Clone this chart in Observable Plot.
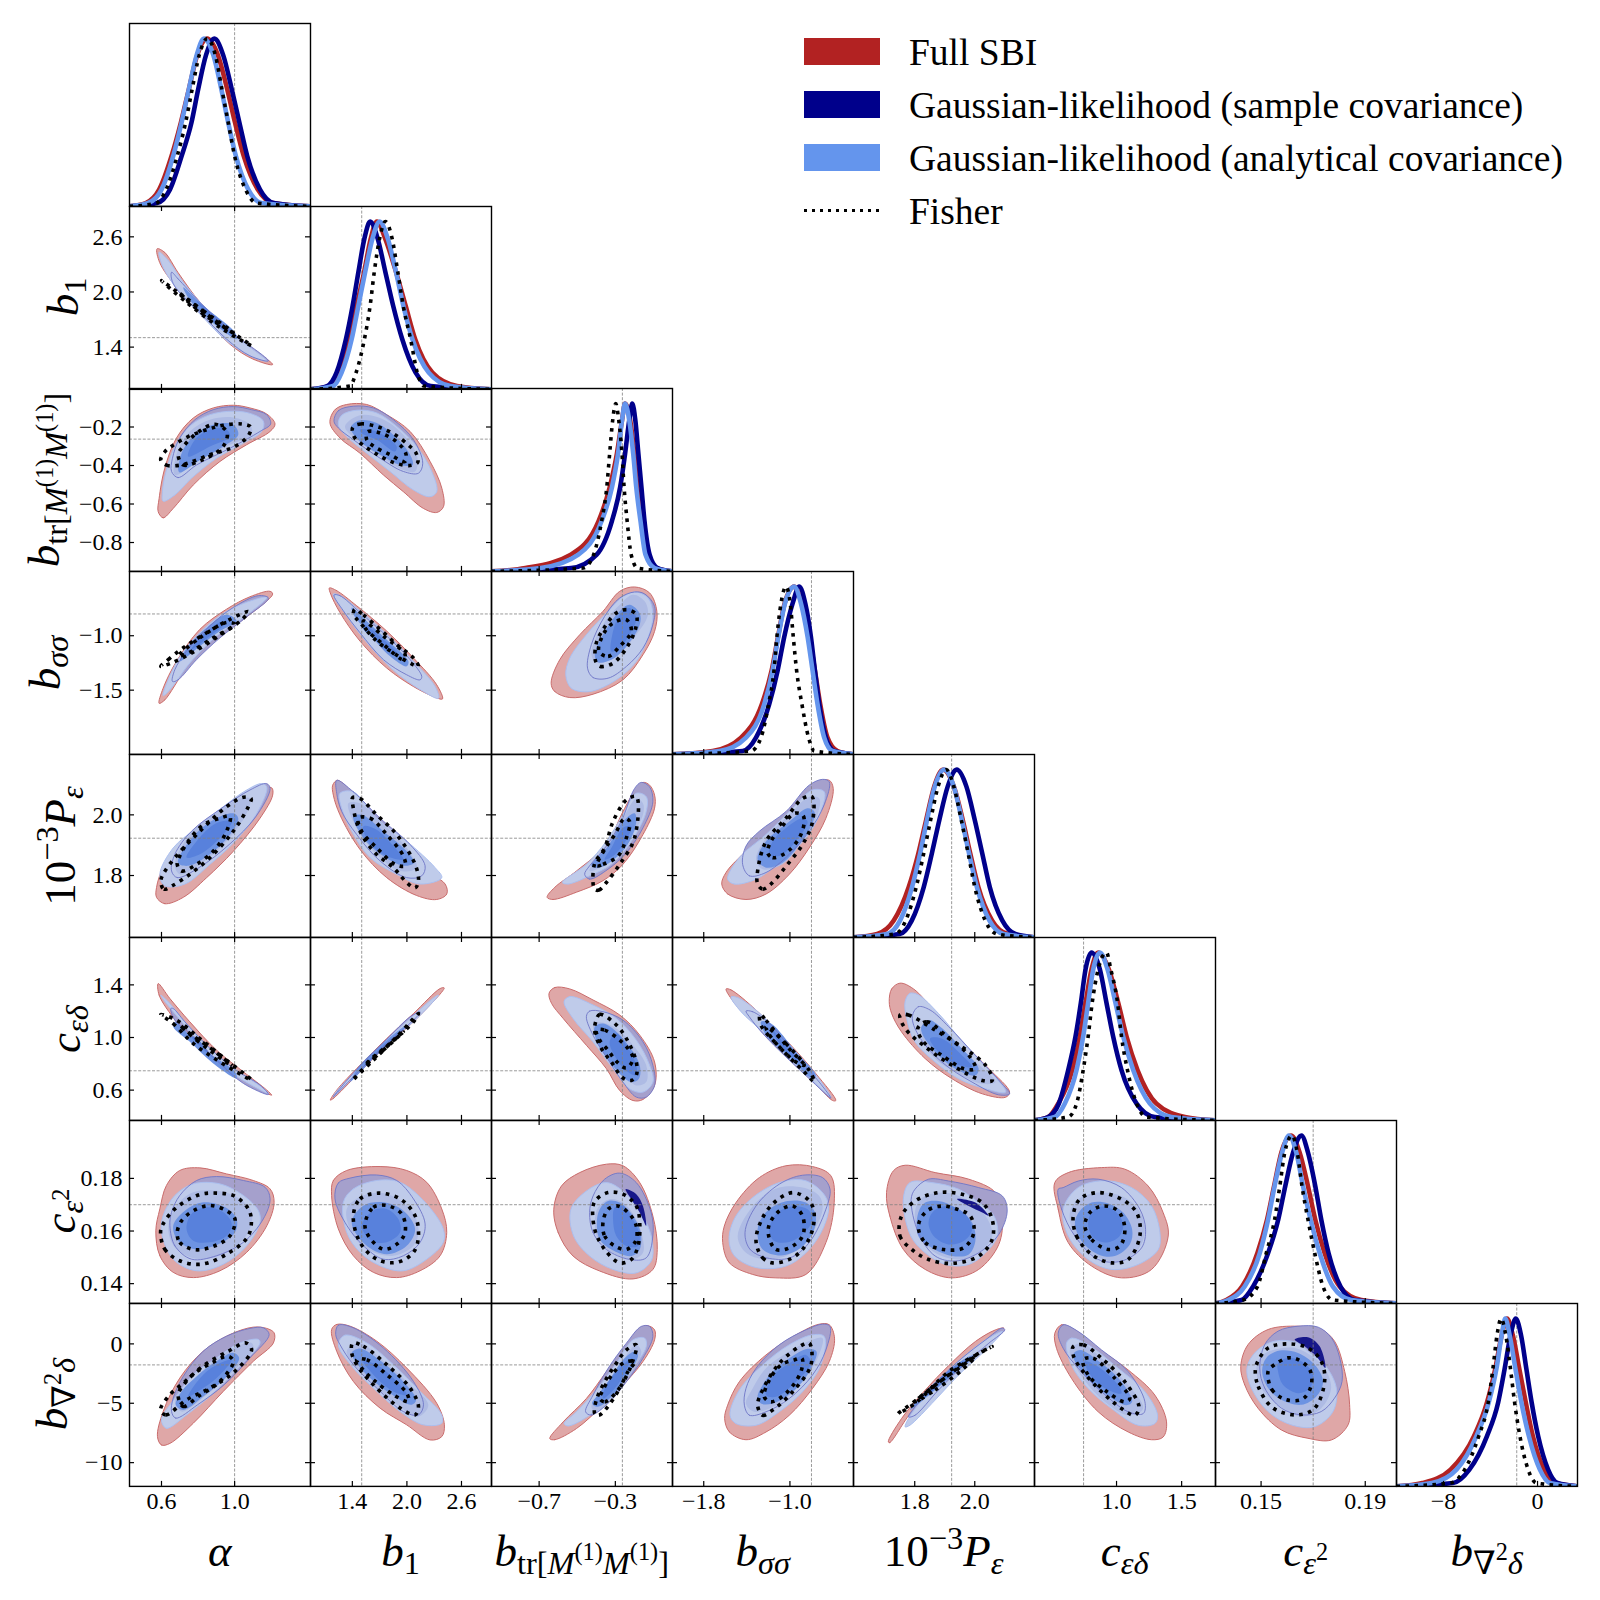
<!doctype html>
<html><head><meta charset="utf-8">
<script src="https://cdn.jsdelivr.net/npm/d3@7"></script>
<script src="https://cdn.jsdelivr.net/npm/@observablehq/plot@0.6"></script>
<style>
html,body{margin:0;background:#fff}
#fig{position:relative;width:1600px;height:1600px;font-family:"Liberation Serif","DejaVu Serif",serif;color:#000;overflow:hidden}
.p{position:absolute}
.p svg{overflow:visible;max-width:none;background:transparent}
.lab{position:absolute;font-size:45px;white-space:nowrap;line-height:1;transform:translate(-50%,-50%)}
.lab.y{transform:translate(-50%,-50%) rotate(-90deg)}
.lab sub,.lab sup{line-height:0;font-size:.72em}
.lab sub{vertical-align:-.25em}.lab sup{vertical-align:.5em}
.lab sub sup{font-size:.75em;vertical-align:.55em}
.leg{position:absolute;left:804px;display:flex;align-items:center;font-size:37.5px;height:27px;white-space:nowrap}
.leg .s{width:76px;height:27px;margin-right:29px;flex:none}
</style></head><body><div id="fig"></div>
<script>
const names=["α","b1","btr","bσσ","P","cεδ","cε2","b∇2δ"];
const domains=[[.425,1.415],[.94,2.93],[-.95,0],[-2.09,-.41],[1.596,2.199],[.37,1.76],[.1325,.2020],[-12,3.4]];
const truth=[1.0,1.503,-.263,-.8,1.923,.747,.17,-1.77];
const ticksX=[[.6,1],[1.4,2,2.6],[-.7,-.3],[-1.8,-1],[1.8,2],[1,1.5],[.15,.19],[-8,0]];
const ticksY=[[],[1.4,2,2.6],[-.8,-.6,-.4,-.2],[-1.5,-1],[1.8,2],[.6,1,1.4],[.14,.16,.18],[-10,-5,0]];
const fmtX=[".1f",".1f",".1f",".1f",".1f",".1f",".2f","d"];
const fmtY=[".1f",".1f",".1f",".1f",".1f",".1f",".2f","d"];
const levels=[.02,.1,.3,.5,.7,.9,1,.9,.7,.5,.3,.1,.02];
// 1-D posteriors: x read at each density level
var sbi1d=[[.514,.587,.655,.706,.75,.795,.85,.909,.959,1.002,1.05,1.127,1.21],
[1.152,1.244,1.367,1.448,1.53,1.603,1.67,1.76,1.88,1.985,2.09,2.28,2.55],
[-.772,-.534,-.388,-.33,-.292,-.265,-.249,-.222,-.2,-.184,-.163,-.131,-.084],
[-1.717,-1.454,-1.26,-1.17,-1.111,-1.049,-.96,-.889,-.82,-.768,-.719,-.651,-.558],
[1.675,1.73,1.78,1.812,1.838,1.865,1.895,1.93,1.96,1.985,2.012,2.058,2.11],
[.475,.552,.66,.718,.762,.808,.859,.941,1.013,1.077,1.161,1.307,1.525],
[.1367,.1427,.1486,.1523,.155,.1578,.1616,.1648,.168,.1708,.1744,.1802,.1885],
[-9.8,-7.4,-5.4,-4.3,-3.6,-3.05,-2.6,-2.1,-1.55,-1.0,-.4,.55,1.5]];
var sample1d=[[.576,.646,.71,.764,.801,.843,.889,.938,.984,1.026,1.069,1.139,1.214],
[1.123,1.226,1.33,1.404,1.467,1.533,1.596,1.678,1.763,1.848,1.948,2.096,2.262],
[-.532,-.398,-.318,-.275,-.249,-.227,-.211,-.195,-.179,-.163,-.147,-.12,-.078],
[-1.439,-1.315,-1.192,-1.114,-1.053,-.975,-.913,-.858,-.805,-.768,-.728,-.666,-.589],
[1.75,1.79,1.83,1.857,1.882,1.91,1.94,1.972,2.0,2.025,2.05,2.092,2.135],
[.475,.557,.629,.685,.726,.762,.808,.872,.923,.974,1.038,1.154,1.294],
[.1425,.1469,.1527,.1566,.1593,.1623,.1655,.168,.1708,.1731,.1759,.1805,.1859],
[-7.2,-5.8,-4.3,-3.35,-2.8,-2.3,-1.85,-1.4,-.95,-.5,.05,.9,1.7]];
var analytic1d=[[.527,.6,.664,.71,.75,.792,.832,.884,.927,.965,1.007,1.075,1.148],
[1.189,1.282,1.393,1.467,1.541,1.622,1.70,1.789,1.88,1.96,2.06,2.24,2.48],
[-.692,-.494,-.372,-.318,-.286,-.265,-.249,-.227,-.206,-.19,-.168,-.142,-.094],
[-1.655,-1.408,-1.238,-1.161,-1.108,-1.046,-.96,-.898,-.836,-.79,-.744,-.682,-.604],
[1.707,1.751,1.791,1.818,1.841,1.867,1.898,1.93,1.957,1.981,2.007,2.049,2.096],
[.526,.603,.693,.744,.782,.821,.872,.931,.992,1.051,1.128,1.256,1.422],
[.1373,.1437,.1495,.1527,.1552,.1581,.1607,.1635,.1661,.169,.1725,.1776,.1846],
[-9.0,-6.9,-5.2,-4.15,-3.5,-3.05,-2.75,-2.37,-1.88,-1.37,-.74,.2,1.05]];
var fisher1d=[[.573,.625,.686,.732,.768,.806,.85,.895,.93,.965,1.0,1.06,1.12],
[1.374,1.441,1.533,1.596,1.641,1.7,1.763,1.837,1.9,1.959,2.04,2.114,2.188],
[-.468,-.414,-.372,-.345,-.33,-.314,-.298,-.282,-.265,-.254,-.238,-.217,-.184],
[-1.362,-1.269,-1.198,-1.148,-1.121,-1.083,-1.037,-.997,-.969,-.938,-.889,-.827,-.774],
[1.735,1.77,1.805,1.83,1.853,1.878,1.905,1.93,1.955,1.978,2.0,2.035,2.075],
[.629,.693,.744,.782,.813,.859,.923,.956,1.008,1.038,1.084,1.154,1.23],
[.1431,.1486,.152,.1552,.1572,.1591,.1619,.1639,.1657,.168,.1706,.1738,.1776],
[-7.4,-6.2,-5.0,-4.2,-3.8,-3.45,-3.1,-2.7,-2.3,-1.95,-1.5,-.8,-.1]];
// 2-D contours (x,y,x,y…) per panel rowcol: R SBI 95, N sample 95, B analytic 95, M overlap, L analytic 68, K core, D sample 68 sliver, F Fisher 95, H Fisher 68
var R10=[.576,2.47,.618,2.43,.691,2.21,.81,1.89,.975,1.56,1.208,1.21,1.10,1.27,.975,1.43,.828,1.74,.682,2.05,.59,2.32];
var B10=[.587,2.433,.637,2.342,.719,2.106,.828,1.851,.975,1.56,1.175,1.25,1.084,1.305,.956,1.469,.828,1.723,.691,2.015,.609,2.269];
var N10=[.655,2.215,.691,2.142,.81,1.887,.975,1.578,1.185,1.25,1.084,1.305,.956,1.487,.81,1.778,.682,2.033,.655,2.142];
var L10=[.719,2.051,.828,1.851,1.002,1.56,1.011,1.487,.901,1.632,.764,1.887];
var K10=[.792,1.905,.92,1.687,.956,1.578,.865,1.723];
var F10=[.6,2.124,.737,1.924,.92,1.651,1.093,1.414,.92,1.614,.737,1.887];
var H10=[.691,1.996,.828,1.796,.993,1.56,.828,1.76];
var R20=[.582,-.64,.609,-.672,.664,-.623,.774,-.501,.92,-.379,1.066,-.292,1.194,-.223,1.221,-.184,1.175,-.132,1.084,-.101,.993,-.087,.883,-.101,.774,-.153,.682,-.257,.618,-.414,.587,-.571];
var N20=[.655,-.431,.691,-.463,.792,-.397,.975,-.31,1.139,-.223,1.197,-.184,1.175,-.136,1.093,-.11,.993,-.094,.883,-.11,.783,-.162,.7,-.257,.66,-.362];
var B20=[.609,-.585,.673,-.553,.764,-.466,.901,-.362,1.048,-.284,1.148,-.223,1.157,-.17,1.093,-.132,.993,-.118,.865,-.136,.764,-.188,.682,-.284,.627,-.423,.605,-.536];
var M20=[.673,-.449,.81,-.371,.975,-.292,1.093,-.24,1.084,-.188,.993,-.15,.865,-.162,.755,-.223,.682,-.344];
var L20=[.697,-.435,.81,-.371,.938,-.301,1.02,-.24,.993,-.188,.883,-.188,.783,-.24,.71,-.336];
var K20=[.746,-.353,.865,-.301,.975,-.249,.956,-.214,.865,-.214,.783,-.266];
var F20=[.596,-.371,.627,-.398,.71,-.397,.865,-.344,1.002,-.301,1.075,-.245,1.088,-.2,1.038,-.184,.938,-.191,.847,-.214,.746,-.25,.66,-.297,.618,-.329];
var H20=[.691,-.341,.719,-.397,.81,-.376,.92,-.318,.956,-.266,.956,-.223,.892,-.186,.801,-.226,.719,-.301];
var R21=[1.154,-.179,1.209,-.11,1.338,-.083,1.558,-.083,1.778,-.136,2.035,-.223,2.255,-.379,2.384,-.518,2.402,-.614,2.328,-.644,2.182,-.623,1.961,-.536,1.741,-.449,1.484,-.336,1.264,-.257];
var N21=[1.198,-.17,1.246,-.115,1.411,-.092,1.631,-.101,1.851,-.162,2.072,-.266,2.174,-.388,2.127,-.44,1.961,-.431,1.705,-.362,1.411,-.266,1.246,-.205];
var B21=[1.246,-.188,1.283,-.139,1.448,-.113,1.668,-.127,1.888,-.197,2.108,-.301,2.273,-.431,2.328,-.536,2.255,-.562,2.072,-.527,1.815,-.431,1.558,-.336,1.338,-.249];
var M21=[1.319,-.197,1.484,-.139,1.705,-.153,1.925,-.223,2.108,-.344,2.09,-.431,1.961,-.423,1.705,-.353,1.448,-.266];
var L21=[1.382,-.205,1.466,-.167,1.668,-.179,1.888,-.257,2.035,-.344,2.064,-.397,1.925,-.397,1.705,-.344,1.484,-.275];
var K21=[1.484,-.214,1.668,-.223,1.888,-.301,1.869,-.327,1.668,-.266,1.503,-.232];
var F21=[1.404,-.202,1.492,-.184,1.686,-.2,1.869,-.24,2.035,-.301,2.101,-.336,2.119,-.383,2.035,-.4,1.851,-.384,1.668,-.341,1.503,-.289,1.418,-.249];
var H21=[1.565,-.226,1.668,-.226,1.869,-.27,1.987,-.336,1.98,-.379,1.815,-.344,1.639,-.301,1.558,-.266];
var R30=[.587,-1.621,.618,-1.59,.737,-1.297,.901,-1.019,1.048,-.849,1.208,-.617,1.194,-.592,1.084,-.642,.956,-.756,.81,-.941,.682,-1.235,.609,-1.482];
var B30=[.609,-1.55,.646,-1.497,.755,-1.25,.901,-1.003,1.048,-.833,1.176,-.648,1.102,-.672,.956,-.778,.819,-.957,.691,-1.219];
var N30=[.66,-1.42,.691,-1.405,.792,-1.219,.92,-1.019,1.066,-.827,1.185,-.654,1.13,-.632,.993,-.74,.865,-.91,.737,-1.142,.673,-1.312];
var L30=[.7,-1.235,.81,-1.096,.92,-.957,1.011,-.864,.956,-.808,.847,-.926,.746,-1.096];
var K30=[.764,-1.127,.865,-1.003,.956,-.879,.92,-.879,.819,-1.003];
var F30=[.596,-1.281,.637,-1.219,.719,-1.111,.847,-.972,.975,-.849,1.075,-.778,1.038,-.855,.92,-.994,.783,-1.142,.655,-1.25];
var H30=[.691,-1.188,.81,-1.019,.956,-.879,1.002,-.895,.883,-1.019,.746,-1.158];
var R31=[1.147,-.561,1.228,-.586,1.448,-.725,1.778,-.957,2.072,-1.204,2.328,-1.451,2.391,-1.581,2.292,-1.559,2.072,-1.467,1.778,-1.297,1.484,-1.049,1.264,-.787,1.162,-.617];
var B31=[1.19,-.617,1.264,-.632,1.484,-.771,1.778,-.987,2.072,-1.235,2.31,-1.467,2.347,-1.575,2.182,-1.513,1.888,-1.343,1.595,-1.096,1.338,-.817];
var N31=[1.198,-.626,1.264,-.632,1.484,-.787,1.778,-1.003,2.035,-1.219,2.163,-1.374,2.145,-1.405,1.998,-1.359,1.741,-1.219,1.484,-.972,1.301,-.771];
var L31=[1.393,-.74,1.595,-.895,1.815,-1.065,2.017,-1.235,1.998,-1.281,1.815,-1.188,1.576,-.972,1.411,-.802];
var K31=[1.521,-.895,1.741,-1.034,1.888,-1.158,1.815,-1.158,1.631,-1.019,1.521,-.941];
var F31=[1.429,-.756,1.521,-.809,1.705,-.941,1.888,-1.081,2.072,-1.204,2.127,-1.281,2.054,-1.26,1.851,-1.158,1.668,-1.049,1.484,-.879,1.411,-.802];
var H31=[1.521,-.864,1.741,-1.003,1.98,-1.173,1.961,-1.219,1.741,-1.08,1.539,-.926];
var R32=[-.637,-1.436,-.618,-1.513,-.539,-1.568,-.417,-1.537,-.26,-1.405,-.155,-1.175,-.094,-.96,-.082,-.776,-.12,-.607,-.199,-.552,-.277,-.592,-.365,-.776,-.487,-.991,-.592,-1.221];
var N32=[-.446,-1.298,-.417,-1.384,-.338,-1.39,-.242,-1.282,-.155,-1.114,-.103,-.899,-.094,-.73,-.146,-.616,-.199,-.598,-.277,-.653,-.356,-.822,-.426,-1.083];
var B32=[-.56,-1.359,-.531,-1.482,-.435,-1.513,-.295,-1.405,-.19,-1.236,-.129,-1.021,-.103,-.807,-.129,-.653,-.199,-.598,-.269,-.653,-.338,-.776,-.452,-.991,-.539,-1.206];
var M32=[-.426,-1.175,-.391,-1.252,-.277,-1.16,-.19,-.991,-.129,-.807,-.146,-.684,-.207,-.623,-.277,-.715,-.365,-.899];
var L32=[-.408,-1.175,-.391,-1.243,-.321,-1.221,-.242,-1.098,-.172,-.899,-.172,-.795,-.225,-.715,-.286,-.791,-.365,-.991];
var K32=[-.321,-1.144,-.277,-1.114,-.216,-.96,-.19,-.837,-.225,-.745,-.277,-.807,-.316,-.991];
var F32=[-.403,-1.236,-.379,-1.282,-.312,-1.252,-.242,-1.114,-.193,-.929,-.19,-.807,-.234,-.761,-.295,-.791,-.365,-.945,-.4,-1.068];
var H32=[-.386,-1.144,-.338,-1.19,-.277,-1.098,-.216,-.96,-.242,-.853,-.312,-.883,-.365,-.991];
var R40=[.573,1.728,.618,1.707,.719,1.728,.847,1.793,.993,1.88,1.139,1.989,1.208,2.065,1.203,2.089,1.139,2.087,1.011,2.054,.865,1.989,.719,1.913,.609,1.826,.573,1.761];
var N40=[.655,1.815,.686,1.793,.805,1.826,.97,1.902,1.116,1.994,1.194,2.087,1.175,2.103,1.084,2.082,.929,2.022,.764,1.946,.673,1.87];
var B40=[.591,1.804,.618,1.766,.728,1.772,.865,1.837,1.002,1.913,1.121,2.005,1.176,2.092,1.148,2.103,1.066,2.082,.938,2.027,.792,1.957,.664,1.891];
var M40=[.673,1.837,.7,1.804,.81,1.837,.956,1.913,1.066,2.005,1.084,2.054,1.011,2.049,.883,2.0,.755,1.935];
var L40=[.691,1.842,.746,1.832,.865,1.87,.975,1.935,1.02,1.989,.993,2.005,.901,1.989,.783,1.935];
var K40=[.737,1.859,.81,1.87,.92,1.924,.984,1.978,.901,1.973,.792,1.913];
var F40=[.596,1.78,.613,1.755,.664,1.768,.755,1.804,.865,1.859,.993,1.946,1.075,2.027,1.09,2.054,1.048,2.058,.956,2.027,.81,1.946,.673,1.859,.609,1.804];
var H40=[.686,1.837,.71,1.815,.792,1.837,.892,1.886,.956,1.946,.975,1.995,.92,1.989,.828,1.967,.746,1.913,.7,1.864];
var R41=[1.184,2.098,1.235,2.114,1.375,2.082,1.595,2.011,1.851,1.913,2.145,1.826,2.42,1.772,2.438,1.739,2.328,1.721,2.108,1.734,1.778,1.793,1.484,1.886,1.264,2.0,1.191,2.065];
var N41=[1.228,2.114,1.411,2.076,1.705,1.989,2.035,1.902,2.2,1.832,2.163,1.799,1.998,1.793,1.705,1.848,1.448,1.935,1.283,2.011,1.228,2.071];
var B41=[1.264,2.071,1.411,2.076,1.668,1.989,1.998,1.913,2.31,1.826,2.383,1.793,2.145,1.772,1.888,1.804,1.595,1.859,1.393,1.946,1.283,2.022];
var M41=[1.356,2.038,1.484,2.038,1.705,1.978,1.998,1.891,2.108,1.826,1.925,1.815,1.668,1.87,1.448,1.957];
var L41=[1.411,1.995,1.503,2.0,1.741,1.946,1.998,1.88,2.079,1.842,1.961,1.832,1.741,1.864,1.521,1.924];
var K41=[1.521,1.962,1.668,1.951,1.851,1.897,1.961,1.853,1.778,1.864,1.576,1.913];
var F41=[1.404,2.057,1.484,2.054,1.668,2.0,1.888,1.935,2.09,1.837,2.127,1.783,2.09,1.759,1.998,1.777,1.851,1.826,1.649,1.875,1.484,1.946,1.411,2.022];
var H41=[1.466,1.989,1.595,1.989,1.778,1.935,1.961,1.864,1.98,1.832,1.87,1.837,1.668,1.891,1.503,1.946];
var R42=[-.658,1.728,-.627,1.721,-.504,1.745,-.365,1.783,-.26,1.837,-.155,1.935,-.094,2.022,-.094,2.065,-.12,2.098,-.155,2.107,-.19,2.087,-.26,2.011,-.347,1.902,-.504,1.815,-.618,1.761];
var N42=[-.461,1.804,-.435,1.788,-.338,1.821,-.242,1.875,-.155,1.957,-.103,2.043,-.12,2.092,-.164,2.107,-.199,2.087,-.269,1.978,-.347,1.897,-.435,1.832];
var B42=[-.578,1.777,-.548,1.772,-.435,1.799,-.321,1.837,-.216,1.913,-.138,2.011,-.138,2.06,-.19,2.071,-.26,2.0,-.347,1.913,-.452,1.837];
var M42=[-.435,1.815,-.321,1.848,-.234,1.913,-.155,2.0,-.155,2.038,-.19,2.054,-.26,1.989,-.347,1.902];
var L42=[-.426,1.832,-.382,1.826,-.295,1.859,-.225,1.913,-.19,1.978,-.199,2.005,-.26,1.978,-.338,1.897];
var K42=[-.356,1.853,-.312,1.864,-.242,1.918,-.216,1.962,-.26,1.957,-.321,1.891];
var F42=[-.409,1.755,-.386,1.752,-.347,1.777,-.277,1.837,-.199,1.924,-.19,2.06,-.242,2.049,-.312,1.978,-.356,1.891,-.409,1.839];
var H42=[-.397,1.832,-.365,1.837,-.286,1.864,-.242,1.924,-.225,1.978,-.251,1.989,-.303,1.935,-.356,1.886];
var R43=[-1.633,1.772,-1.578,1.739,-1.408,1.721,-1.222,1.739,-1.006,1.804,-.821,1.891,-.666,1.989,-.598,2.087,-.635,2.114,-.728,2.109,-.913,2.043,-1.161,1.957,-1.439,1.87,-1.593,1.81];
var N43=[-1.439,1.837,-1.377,1.799,-1.222,1.81,-1.006,1.87,-.821,1.946,-.682,2.033,-.635,2.109,-.697,2.117,-.821,2.098,-1.037,2.011,-1.284,1.946,-1.408,1.897];
var B43=[-1.578,1.788,-1.516,1.772,-1.315,1.788,-1.099,1.842,-.852,1.924,-.713,2.011,-.682,2.076,-.79,2.082,-.975,2.022,-1.222,1.935,-1.47,1.859];
var M43=[-1.315,1.853,-1.253,1.821,-1.068,1.837,-.883,1.913,-.744,2.0,-.728,2.054,-.821,2.06,-1.006,2.0,-1.222,1.924];
var L43=[-1.3,1.853,-1.222,1.826,-1.068,1.842,-.913,1.902,-.79,1.973,-.774,2.011,-.836,2.022,-1.006,1.978,-1.222,1.913];
var K43=[-1.192,1.87,-1.099,1.864,-.944,1.913,-.836,1.978,-.883,1.989,-1.037,1.957,-1.161,1.913];
var F43=[-1.3,1.772,-1.253,1.755,-1.176,1.772,-1.022,1.837,-.883,1.902,-.79,1.978,-.796,2.06,-.883,2.054,-1.037,1.989,-1.222,1.913,-1.3,1.815];
var H43=[-1.207,1.875,-1.161,1.859,-1.037,1.875,-.913,1.924,-.867,1.978,-.883,2.0,-.96,2.005,-1.083,1.957,-1.176,1.913];
var R50=[.582,1.41,.587,1.322,.682,1.119,.828,.891,.993,.714,1.203,.562,1.176,.6,1.048,.739,.901,.904,.755,1.119,.646,1.296];
var B50=[.596,1.322,.62,1.271,.711,1.119,.847,.891,1.002,.714,1.185,.575,1.157,.613,1.011,.752,.865,.916,.728,1.119,.637,1.271];
var N50=[.651,1.22,.673,1.132,.764,1.018,.901,.828,1.048,.651,1.185,.567,1.139,.638,.993,.765,.847,.942,.728,1.119,.664,1.22];
var L50=[.664,1.081,.755,.967,.883,.802,1.011,.689,1.002,.739,.865,.878,.746,1.03,.673,1.119];
var K50=[.764,1.005,.865,.866,.966,.752,.883,.853,.783,1.005];
var F50=[.596,1.175,.664,1.106,.774,.954,.92,.815,1.093,.676,.956,.828,.81,.992,.682,1.132];
var H50=[.7,1.094,.792,.98,.938,.828,.993,.777,.883,.904,.755,1.03];
var R51=[1.158,.524,1.191,.537,1.484,.739,1.778,.942,2.072,1.119,2.41,1.377,2.365,1.372,2.072,1.182,1.778,.992,1.484,.79,1.228,.6];
var B51=[1.191,.55,1.484,.752,1.778,.954,2.072,1.119,2.347,1.322,2.31,1.309,2.035,1.145,1.778,.98,1.484,.777,1.209,.575];
var N51=[1.191,.55,1.484,.752,1.778,.954,2.108,1.157,2.145,1.195,2.035,1.157,1.778,.987,1.484,.785,1.209,.567];
var L51=[1.375,.663,1.668,.866,1.961,1.056,1.998,1.094,1.778,.98,1.484,.79];
var K51=[1.521,.777,1.741,.916,1.888,1.018,1.705,.916];
var F51=[1.4,.673,1.631,.828,1.888,1.005,2.127,1.182,2.072,1.119,1.815,.954,1.558,.79];
var H51=[1.539,.79,1.741,.904,1.961,1.043,1.815,.954,1.613,.84];
var R52=[-.648,1.336,-.618,1.38,-.539,1.369,-.417,1.285,-.277,1.171,-.172,1.018,-.094,.814,-.094,.636,-.155,.529,-.207,.521,-.277,.597,-.347,.763,-.452,.941,-.574,1.145,-.635,1.26];
var N52=[-.452,1.158,-.435,1.201,-.365,1.196,-.26,1.132,-.155,.967,-.103,.789,-.094,.636,-.138,.547,-.19,.547,-.26,.661,-.33,.814,-.408,.992];
var B52=[-.569,1.273,-.539,1.311,-.417,1.247,-.295,1.145,-.19,.98,-.12,.789,-.103,.661,-.155,.585,-.225,.61,-.312,.763,-.417,.967,-.522,1.145];
var M52=[-.417,1.094,-.382,1.115,-.295,1.069,-.207,.941,-.138,.789,-.138,.661,-.19,.636,-.26,.725,-.33,.839];
var L52=[-.408,1.082,-.365,1.107,-.303,1.056,-.225,.929,-.172,.789,-.176,.687,-.216,.661,-.277,.725,-.347,.852,-.4,.98];
var K52=[-.33,.967,-.295,1.031,-.242,.941,-.19,.789,-.19,.712,-.234,.738,-.295,.839];
var F52=[-.403,1.12,-.382,1.176,-.303,1.107,-.242,.992,-.19,.814,-.19,.712,-.216,.674,-.26,.692,-.321,.814,-.373,.916,-.408,1.043];
var H52=[-.4,1.056,-.356,1.056,-.277,.98,-.234,.916,-.207,.839,-.242,.768,-.291,.814,-.338,.903,-.382,.98];
var R53=[-1.593,1.369,-1.547,1.362,-1.315,1.209,-1.006,.954,-.759,.725,-.574,.521,-.604,.521,-.79,.674,-1.037,.865,-1.284,1.069,-1.501,1.247];
var B53=[-1.547,1.308,-1.485,1.303,-1.269,1.176,-.991,.934,-.744,.699,-.62,.546,-.79,.674,-1.037,.865,-1.253,1.043,-1.454,1.196];
var N53=[-1.408,1.201,-1.346,1.196,-1.192,1.107,-.944,.865,-.728,.661,-.62,.539,-.821,.687,-1.037,.852,-1.253,1.031,-1.377,1.158];
var L53=[-1.269,1.12,-1.176,1.107,-.944,.89,-.759,.712,-.79,.687,-1.006,.852,-1.222,1.018];
var K53=[-1.161,1.056,-1.037,.941,-.898,.814,-.944,.827,-1.099,.954];
var F53=[-1.278,1.176,-1.222,1.13,-1.022,.929,-.821,.75,-.774,.661,-.867,.738,-1.099,.929,-1.269,1.094];
var H53=[-1.222,1.082,-1.037,.954,-.867,.789,-.944,.814,-1.114,.941,-1.207,1.043];
var R54=[1.715,1.273,1.723,1.369,1.751,1.413,1.796,1.369,1.868,1.196,1.957,.967,2.047,.763,2.116,.585,2.103,.546,2.025,.572,1.924,.687,1.835,.839,1.756,1.043,1.723,1.183];
var B54=[1.768,1.273,1.784,1.336,1.812,1.324,1.879,1.183,1.969,.941,2.058,.725,2.103,.585,2.036,.61,1.946,.687,1.868,.814,1.801,.967,1.773,1.145];
var N54=[1.792,1.158,1.812,1.234,1.851,1.209,1.913,1.082,2.002,.865,2.086,.661,2.116,.572,2.08,.564,1.991,.661,1.89,.814,1.812,1.018];
var M54=[1.818,1.056,1.851,1.132,1.913,1.005,1.991,.839,2.069,.661,2.025,.648,1.935,.738,1.857,.865];
var L54=[1.821,1.069,1.846,1.132,1.885,1.082,1.957,.916,2.013,.763,2.002,.712,1.935,.763,1.868,.89];
var K54=[1.851,.992,1.89,.992,1.957,.865,1.991,.776,1.935,.801,1.879,.89];
var F54=[1.751,1.171,1.779,1.171,1.868,1.056,1.957,.929,2.036,.789,2.058,.674,2.025,.674,1.924,.789,1.835,.929,1.768,1.069];
var H54=[1.81,1.069,1.84,1.12,1.902,1.018,1.98,.865,2.002,.763,1.963,.763,1.89,.865,1.829,.967];
var R60=[.569,.1601,.591,.1506,.664,.1443,.774,.1423,.92,.1449,1.066,.1519,1.176,.162,1.216,.1709,1.194,.176,1.102,.1792,.956,.1817,.81,.184,.7,.183,.627,.1773,.591,.1684];
var N60=[.646,.162,.673,.1544,.764,.1493,.901,.1506,1.048,.1557,1.157,.1646,1.194,.1722,1.167,.1766,1.048,.1792,.901,.1807,.792,.1792,.7,.1735,.655,.1671];
var B60=[.609,.1658,.6,.1595,.664,.1493,.792,.1449,.938,.1474,1.066,.1544,1.139,.1633,1.13,.1677,1.048,.1735,.92,.1779,.774,.1779,.673,.1735];
var M60=[.637,.1608,.682,.1531,.81,.1493,.956,.1519,1.075,.1595,1.093,.1671,1.029,.1722,.901,.1754,.774,.1747,.682,.1696];
var L60=[.664,.162,.691,.1563,.783,.1531,.911,.155,1.002,.1595,1.011,.1646,.948,.169,.828,.1709,.728,.1677];
var K60=[.737,.1608,.774,.1563,.865,.1557,.956,.1582,.984,.1627,.938,.1671,.847,.169,.764,.1665];
var F60=[.595,.1597,.618,.1531,.7,.1487,.819,.1474,.956,.1512,1.075,.1582,1.084,.1671,1.002,.1732,.901,.1744,.801,.1737,.673,.1684,.609,.1627];
var H60=[.686,.1595,.7,.1557,.783,.1529,.892,.1544,.975,.1582,1.002,.1646,.956,.1677,.865,.1697,.774,.1677,.71,.1639];
var R61=[1.172,.1735,1.191,.1792,1.338,.183,1.705,.1845,1.998,.183,2.218,.1785,2.383,.1684,2.438,.1595,2.365,.1506,2.145,.1449,1.888,.1423,1.631,.1443,1.411,.1506,1.246,.1608];
var N61=[1.209,.1722,1.246,.1783,1.374,.1801,1.668,.1813,1.888,.1792,2.072,.1722,2.2,.1627,2.145,.1557,1.961,.1506,1.741,.1493,1.521,.1544,1.338,.1622];
var B61=[1.301,.1709,1.411,.176,1.668,.1792,1.925,.1785,2.2,.1709,2.4,.1608,2.4,.1557,2.218,.1493,1.961,.1449,1.705,.1468,1.484,.1519,1.338,.1595];
var M61=[1.338,.1684,1.521,.1735,1.778,.1741,2.035,.1684,2.127,.1608,2.072,.1544,1.851,.1506,1.595,.1525,1.411,.1582];
var L61=[1.393,.1633,1.521,.1696,1.741,.1709,1.961,.1677,2.09,.1608,1.998,.1544,1.778,.1512,1.539,.155];
var K61=[1.503,.162,1.631,.1677,1.778,.1684,1.906,.1646,1.925,.1595,1.778,.1557,1.613,.1563];
var F61=[1.411,.1658,1.484,.1722,1.686,.1744,1.925,.1722,2.09,.1658,2.127,.1582,2.072,.1519,1.888,.1481,1.668,.1493,1.484,.1557];
var H61=[1.539,.1627,1.631,.169,1.778,.1697,1.943,.1665,1.98,.1595,1.888,.155,1.741,.1531,1.576,.1582];
var R62=[-.623,.1683,-.6,.1594,-.522,.1505,-.382,.1448,-.207,.1418,-.103,.1454,-.08,.153,-.103,.1657,-.172,.1784,-.26,.1848,-.347,.1854,-.487,.1822,-.583,.1771];
var N62=[-.435,.167,-.417,.1594,-.347,.153,-.225,.1492,-.138,.1498,-.103,.1581,-.112,.167,-.19,.1784,-.277,.182,-.356,.1797,-.417,.1733];
var B62=[-.533,.1683,-.519,.1581,-.435,.1505,-.312,.1454,-.19,.1441,-.112,.1486,-.103,.1543,-.129,.1619,-.19,.1695,-.26,.1752,-.347,.1784,-.452,.1752];
var M62=[-.408,.1632,-.391,.1568,-.312,.1517,-.207,.1492,-.155,.1517,-.155,.1568,-.19,.1644,-.26,.1708,-.33,.1721,-.391,.1689];
var L62=[-.397,.1632,-.382,.1568,-.321,.153,-.216,.1505,-.172,.153,-.167,.1594,-.207,.1657,-.277,.1708,-.338,.1714,-.382,.1683];
var K62=[-.312,.1644,-.295,.1581,-.242,.1543,-.181,.1543,-.172,.1581,-.207,.1644,-.26,.1695,-.303,.1689];
var D62=[-.246,.1759,-.19,.174,-.155,.1695,-.138,.1619,-.172,.167,-.216,.1721];
var F62=[-.417,.1695,-.408,.1606,-.356,.153,-.277,.1479,-.216,.1492,-.181,.1543,-.172,.1632,-.19,.1695,-.26,.174,-.338,.1746,-.4,.172];
var H62=[-.365,.1632,-.356,.1581,-.303,.1543,-.242,.153,-.193,.1562,-.19,.1619,-.225,.1664,-.286,.1695,-.338,.1683];
var R63=[-1.624,.1556,-1.562,.1479,-1.346,.1435,-1.13,.1422,-.852,.1435,-.666,.1556,-.589,.1708,-.62,.181,-.79,.1845,-1.037,.1848,-1.284,.1803,-1.501,.1708,-1.609,.1619];
var N63=[-1.417,.1594,-1.37,.153,-1.216,.1498,-1.0,.1498,-.821,.1556,-.666,.1683,-.628,.1759,-.697,.1803,-.883,.1812,-1.099,.1778,-1.315,.1695];
var B63=[-1.565,.1568,-1.513,.1505,-1.312,.1461,-1.037,.1467,-.852,.1517,-.697,.1606,-.641,.1695,-.697,.1746,-.852,.1791,-1.037,.1791,-1.284,.1746,-1.501,.1657];
var M63=[-1.485,.1581,-1.408,.1517,-1.222,.1492,-1.006,.1511,-.821,.1575,-.697,.1683,-.728,.1733,-.883,.1765,-1.099,.1765,-1.315,.1708];
var L63=[-1.3,.1581,-1.253,.153,-1.083,.1507,-.898,.1536,-.775,.1606,-.767,.167,-.852,.1708,-1.022,.1714,-1.192,.1683,-1.284,.1632];
var K63=[-1.192,.16,-1.145,.1562,-1.006,.1558,-.867,.1594,-.79,.1644,-.836,.1683,-.991,.1693,-1.13,.1664];
var F63=[-1.315,.1562,-1.253,.1498,-1.161,.1479,-1.006,.1492,-.883,.153,-.79,.1606,-.781,.1683,-.836,.1721,-.975,.1746,-1.13,.1714,-1.253,.1651];
var H63=[-1.197,.1581,-1.13,.153,-1.006,.1536,-.883,.1581,-.883,.1657,-.975,.1695,-1.099,.1676,-1.192,.1625];
var R64=[1.706,.1746,1.717,.1657,1.762,.153,1.835,.1454,1.924,.1422,2.013,.1454,2.08,.1549,2.092,.1657,2.069,.1746,1.98,.1797,1.868,.1822,1.768,.185,1.729,.1829];
var N64=[1.788,.172,1.812,.1594,1.868,.1505,1.935,.1486,2.013,.1517,2.08,.1587,2.108,.1676,2.092,.1733,2.013,.1765,1.913,.179,1.846,.1797,1.801,.1759];
var B64=[1.762,.172,1.787,.1581,1.835,.1517,1.902,.1473,1.98,.1473,2.036,.1517,2.075,.1581,2.064,.1657,2.013,.1708,1.946,.1759,1.857,.1784,1.784,.1784];
var M64=[1.8,.1657,1.818,.1581,1.868,.1517,1.946,.1492,2.013,.1517,2.058,.1581,2.036,.1657,1.969,.1721,1.89,.1746,1.818,.172];
var L64=[1.812,.167,1.812,.1581,1.857,.1536,1.924,.1505,1.98,.1511,2.002,.1562,1.991,.1632,1.935,.1689,1.879,.1714,1.835,.1708];
var K64=[1.846,.1632,1.863,.1581,1.913,.1549,1.963,.1562,1.991,.1606,1.969,.1664,1.913,.1695,1.863,.1676];
var D64=[1.941,.1722,2.002,.1708,2.047,.1657,2.025,.167,1.98,.1695];
var F64=[1.756,.1657,1.751,.1581,1.79,.153,1.846,.1492,1.924,.1477,2.013,.1505,2.058,.1568,2.058,.1644,2.025,.1708,1.957,.174,1.879,.1746,1.801,.1714];
var H64=[1.812,.1619,1.835,.1556,1.896,.153,1.963,.1536,1.997,.1594,1.985,.1657,1.941,.1683,1.89,.1695,1.84,.1676];
var R65=[.526,.1784,.552,.1683,.629,.1556,.808,.1467,1.038,.1422,1.269,.1454,1.397,.1581,1.358,.167,1.243,.1771,1.064,.1835,.885,.1841,.629,.1822];
var N65=[.552,.1759,.578,.1683,.68,.1581,.859,.1492,1.038,.1486,1.192,.1536,1.223,.1606,1.179,.1683,1.038,.1765,.859,.1797,.706,.179,.59,.1765];
var B65=[.59,.1683,.629,.1581,.782,.1492,.962,.1454,1.166,.1473,1.32,.153,1.333,.1594,1.269,.1695,1.115,.1765,.91,.1791,.706,.1765];
var M65=[.642,.167,.68,.1581,.834,.1505,1.013,.1486,1.166,.153,1.218,.1606,1.166,.1683,1.038,.1733,.859,.1746,.706,.172];
var L65=[.68,.1632,.731,.1562,.859,.1511,.987,.1505,1.102,.1549,1.12,.1606,1.051,.167,.936,.1705,.808,.1708,.718,.1676];
var K65=[.782,.1625,.821,.1575,.91,.1556,1.013,.1575,1.051,.1625,.987,.1676,.885,.1693,.808,.167];
var F65=[.667,.1657,.693,.1581,.808,.1511,.962,.1479,1.09,.1492,1.179,.1581,1.154,.167,1.038,.1721,.859,.1746,.718,.1721];
var H65=[.757,.1619,.808,.1568,.936,.153,1.026,.1543,1.064,.1606,1.013,.1676,.898,.1695,.795,.167];
var R70=[.578,-7.81,.6,-8.52,.646,-8.38,.774,-6.68,.938,-4.0,1.102,-1.47,1.212,.08,1.216,.93,1.176,1.3,1.102,1.41,.975,.79,.828,-.62,.7,-2.88,.609,-5.7];
var N70=[.655,-5.7,.678,-6.26,.797,-5.13,.943,-3.44,1.084,-1.18,1.189,.79,1.157,1.35,1.084,1.3,.956,.65,.828,-.62,.719,-2.74,.664,-4.57];
var B70=[.6,-6.4,.627,-7.11,.737,-5.98,.883,-4.15,1.011,-2.17,1.139,.08,1.13,.37,1.029,.08,.901,-1.18,.774,-2.59,.673,-4.57];
var M70=[.673,-4.85,.71,-5.7,.847,-4.29,.993,-2.31,1.102,-.48,1.093,.08,.993,-.34,.865,-1.75,.746,-3.44];
var L70=[.678,-5.13,.719,-5.56,.828,-4.43,.956,-2.74,1.025,-1.18,.993,-.76,.901,-1.47,.792,-2.74,.71,-4.0];
var K70=[.746,-4.43,.828,-3.72,.92,-2.59,.984,-1.33,.92,-1.61,.828,-2.59];
var F70=[.595,-5.56,.624,-5.98,.737,-4.71,.865,-3.72,1.002,-2.31,1.093,-.48,1.062,.08,.965,-.62,.838,-1.75,.719,-3.3,.637,-4.43];
var H70=[.691,-4.29,.719,-5.27,.801,-4.43,.92,-3.16,.993,-1.47,.965,-1.04,.874,-1.61,.783,-2.45,.728,-3.3];
var R71=[1.172,1.21,1.228,1.64,1.375,1.49,1.668,.23,1.998,-2.03,2.328,-5.0,2.412,-6.82,2.383,-7.81,2.255,-8.09,1.998,-6.82,1.705,-5.41,1.411,-3.16,1.228,-.62];
var N71=[1.217,.79,1.246,1.58,1.411,1.35,1.741,-.34,2.072,-3.16,2.182,-5.13,2.127,-5.98,1.961,-5.7,1.668,-3.72,1.411,-1.75,1.264,-.06];
var B71=[1.246,-.06,1.319,.73,1.558,.08,1.851,-1.75,2.145,-4.0,2.383,-5.98,2.383,-6.68,2.182,-6.82,1.925,-5.7,1.631,-3.72,1.411,-2.03];
var M71=[1.338,-.62,1.484,.08,1.705,-1.18,1.998,-3.16,2.236,-5.13,2.127,-6.12,1.888,-5.13,1.595,-3.16];
var L71=[1.393,-.76,1.484,-.39,1.668,-1.18,1.925,-2.88,2.101,-4.71,2.053,-5.13,1.815,-4.15,1.576,-2.74,1.448,-1.61];
var K71=[1.521,-1.47,1.668,-1.75,1.888,-3.16,1.998,-4.29,1.851,-4.0,1.631,-2.59];
var F71=[1.404,.08,1.521,-.2,1.778,-1.75,2.035,-3.72,2.127,-5.27,2.09,-5.98,1.925,-5.41,1.631,-3.44,1.448,-1.75,1.393,-.76];
var H71=[1.448,-1.33,1.558,-1.33,1.778,-2.59,1.998,-4.15,2.017,-4.85,1.851,-4.29,1.631,-3.02,1.503,-2.03];
var R72=[-.644,-7.98,-.618,-8.07,-.504,-7.13,-.365,-5.16,-.26,-3.47,-.155,-1.49,-.094,.34,-.094,1.18,-.129,1.52,-.172,1.33,-.242,-.08,-.347,-2.34,-.452,-4.6,-.574,-6.57];
var N72=[-.456,-5.72,-.426,-6.0,-.33,-4.88,-.242,-3.19,-.155,-1.21,-.103,.62,-.12,1.47,-.164,1.47,-.242,.06,-.338,-2.06,-.417,-4.31];
var B72=[-.569,-6.71,-.548,-6.91,-.435,-6.01,-.312,-4.31,-.207,-2.06,-.138,-.23,-.146,.48,-.207,.34,-.295,-1.64,-.4,-3.89,-.504,-5.72];
var M72=[-.426,-5.3,-.4,-5.72,-.295,-4.17,-.19,-1.78,-.164,-.65,-.19,-.08,-.277,-1.78,-.365,-3.75];
var L72=[-.422,-5.02,-.391,-5.3,-.312,-4.31,-.234,-2.62,-.181,-.93,-.199,-.65,-.26,-1.35,-.338,-3.19,-.4,-4.46];
var K72=[-.365,-4.6,-.303,-3.75,-.242,-2.2,-.225,-1.35,-.277,-2.06,-.347,-3.47];
var F72=[-.408,-5.87,-.386,-6.01,-.347,-5.44,-.277,-3.75,-.216,-1.78,-.19,-.08,-.242,-.51,-.295,-1.64,-.356,-3.19,-.4,-4.74];
var H72=[-.382,-4.6,-.356,-4.88,-.286,-3.89,-.234,-2.34,-.199,-1.49,-.251,-1.55,-.312,-2.48,-.365,-3.89];
var R73=[-1.606,-6.29,-1.562,-7.42,-1.408,-8.07,-1.222,-7.42,-1.006,-6.01,-.79,-3.75,-.635,-1.49,-.586,.48,-.635,1.61,-.728,1.66,-.944,.76,-1.222,-.93,-1.47,-3.19,-1.578,-5.16];
var N73=[-1.423,-5.16,-1.377,-6.01,-1.222,-5.72,-1.006,-4.6,-.79,-2.62,-.666,-.51,-.628,1.47,-.697,1.66,-.852,1.18,-1.099,-.08,-1.315,-2.06,-1.408,-3.75];
var B73=[-1.556,-6.01,-1.501,-6.71,-1.315,-6.85,-1.099,-5.72,-.883,-4.03,-.713,-1.78,-.682,.62,-.79,.76,-1.006,-.08,-1.253,-1.78,-1.47,-3.89];
var M73=[-1.408,-5.02,-1.331,-5.72,-1.099,-5.02,-.883,-3.19,-.744,-1.21,-.697,.48,-.79,.34,-1.006,-.65,-1.222,-2.06,-1.346,-3.75];
var L73=[-1.3,-4.46,-1.269,-5.02,-1.161,-5.02,-.975,-4.03,-.821,-2.34,-.753,-.65,-.836,-.42,-1.006,-1.21,-1.161,-2.34,-1.253,-3.47];
var K73=[-1.222,-4.31,-1.13,-4.46,-.944,-3.19,-.805,-1.64,-.852,-.93,-1.006,-1.64,-1.161,-2.76];
var F73=[-1.3,-5.16,-1.253,-6.01,-1.161,-5.58,-.975,-4.03,-.805,-1.78,-.821,.06,-.913,-.23,-1.099,-1.64,-1.238,-3.61];
var H73=[-1.238,-4.46,-1.176,-4.88,-1.037,-4.17,-.898,-2.34,-.889,-1.21,-.96,-1.35,-1.083,-1.78,-1.192,-3.05];
var R74=[1.712,-8.26,1.717,-8.32,1.79,-5.72,1.868,-4.03,1.957,-1.92,2.058,.48,2.097,1.33,2.069,1.18,2.002,.2,1.913,-1.83,1.835,-3.89,1.756,-6.29];
var N74=[1.779,-6.15,1.801,-6.01,1.879,-3.89,1.969,-1.64,2.047,.06,2.1,1.18,2.092,1.33,2.036,.34,1.957,-1.21,1.89,-2.76,1.824,-4.6];
var B74=[1.768,-6.99,1.784,-6.85,1.868,-4.73,1.946,-2.62,2.025,-.79,2.08,.62,2.092,1.04,2.036,.34,1.957,-1.21,1.89,-2.76,1.824,-4.73,1.779,-6.29];
var L74=[1.784,-5.58,1.868,-3.89,1.946,-2.2,2.002,-.93,1.98,-1.07,1.902,-2.48,1.824,-4.31];
var K74=[1.835,-4.46,1.913,-2.76,1.98,-1.49,1.957,-1.49,1.879,-3.05];
var F74=[1.745,-5.87,1.812,-4.6,1.913,-2.62,2.013,-.79,2.058,-.23,2.025,-.65,1.913,-2.34,1.801,-5.02];
var H74=[1.801,-4.88,1.868,-3.89,1.957,-2.2,2.002,-1.07,1.946,-2.06,1.846,-3.89];
var R75=[.526,.9,.578,1.61,.68,1.18,.859,-.37,1.09,-2.2,1.294,-4.31,1.384,-6.57,1.358,-7.84,1.269,-8.07,1.09,-7.42,.859,-5.72,.654,-2.9,.539,-.37];
var N75=[.552,.9,.59,1.61,.706,1.04,.885,-.51,1.09,-2.34,1.218,-4.88,1.205,-5.87,1.09,-5.72,.885,-4.03,.706,-2.06,.59,-.37];
var B75=[.616,.06,.654,.48,.782,-.08,1.013,-2.06,1.218,-4.03,1.315,-6.01,1.294,-6.71,1.166,-6.85,.962,-5.44,.782,-3.75,.654,-1.78];
var M75=[.642,-.51,.731,.06,.885,-1.21,1.09,-3.47,1.205,-5.44,1.09,-6.01,.91,-4.88,.744,-2.9];
var L75=[.667,-.93,.718,-.51,.885,-1.64,1.038,-3.19,1.12,-4.88,1.077,-5.16,.91,-4.17,.744,-2.48];
var K75=[.757,-1.49,.859,-1.92,1.013,-3.47,1.038,-4.17,.936,-3.89,.808,-2.76];
var F75=[.667,-.23,.744,-.08,.885,-1.21,1.064,-3.19,1.172,-5.3,1.141,-6.01,1.038,-5.44,.859,-3.75,.706,-1.78,.667,-.93];
var H75=[.744,-1.35,.821,-1.21,.987,-2.9,1.102,-4.6,1.064,-4.88,.91,-3.89,.782,-2.62];
var R76=[.1422,-1.89,.1437,-3.44,.1488,-5.41,.1578,-7.25,.168,-7.95,.177,-8.09,.1834,-6.82,.184,-5.13,.1821,-2.31,.1782,.23,.1731,1.21,.1642,1.49,.1527,1.21,.145,-.06];
var N76=[.1495,-2.03,.1514,-3.72,.1578,-5.41,.1655,-5.98,.1731,-5.7,.1782,-4.57,.1811,-3.16,.1802,-1.18,.177,.51,.1719,1.41,.1642,1.49,.1565,1.07,.1514,-.06];
var B76=[.1446,-2.03,.1463,-3.72,.1527,-5.7,.1616,-6.82,.1706,-6.97,.1776,-5.7,.1789,-3.72,.1744,-1.75,.168,-.62,.1642,.08,.1552,.23,.1482,-.62];
var M76=[.1482,-2.03,.1501,-3.72,.1565,-5.13,.1655,-6.12,.1731,-5.41,.1769,-3.72,.1744,-2.03,.1706,-1.18,.1629,-.34,.1552,-.48,.1501,-1.04];
var L76=[.1504,-2.31,.1527,-3.72,.1578,-4.71,.1655,-5.13,.1712,-4.43,.1738,-3.16,.1706,-1.75,.1642,-.76,.1572,-.56,.152,-1.18];
var K76=[.1565,-2.31,.1584,-3.44,.1642,-4.15,.1687,-3.72,.17,-2.59,.1655,-1.47,.1604,-1.18,.1565,-1.61];
var D76=[.1629,.37,.168,.56,.1725,-.2,.1747,-2.03,.1712,-1.04,.1667,-.2];
var F76=[.1478,-2.17,.1489,-3.58,.1546,-5.41,.1642,-5.98,.1706,-5.41,.1744,-3.16,.1731,-1.47,.168,-.34,.1604,0,.1527,-.34,.1491,-1.33];
var H76=[.1527,-2.31,.1542,-3.86,.1597,-4.71,.1661,-4.62,.1693,-3.44,.1687,-2.17,.1642,-1.33,.1604,-1.18,.1552,-1.75];

const legendNames=["Full SBI","Gaussian-likelihood (sample covariance)","Gaussian-likelihood (analytical covariance)","Fisher"];
const legendY=[38,91,144,197];
const xLabels=['<i>α</i>','<i>b</i><sub>1</sub>','<i>b</i><sub>tr[<i>M</i><sup>(1)</sup><i>M</i><sup>(1)</sup>]</sub>','<i>b</i><sub><i>σσ</i></sub>','10<sup>−3</sup><i>P</i><sub><i>ε</i></sub>','<i>c</i><sub><i>εδ</i></sub>','<i>c</i><sub><i>ε</i><sup>2</sup></sub>','<i>b</i><sub>∇<sup>2</sup><i>δ</i></sub>'];
const yLabelX=[0,63,44,45,60,65,60,52];

const fig=document.getElementById("fig");
const W=181,H=182.9,X0=129.2,Y0=22.6,ML=110,MB=40;
const FONT='"Liberation Serif","DejaVu Serif",serif';
const pts=a=>d3.range(0,(a||[]).length,2).map(i=>({x:a[i],y:a[i+1]}));
const closed=(a,o)=>Plot.line(pts(a),{x:"x",y:"y",curve:"catmull-rom-closed",...o});
const dotted={stroke:"#000",strokeWidth:3.6,strokeDasharray:"3.6,5.4",strokeLinecap:"butt"};
function frameMarks(r,c,diag){
  const m=[];
  m.push(Plot.ruleX(ticksX[c],{insetTop:H-5,stroke:"#000",strokeWidth:1.2}));
  if(!diag){
    m.push(Plot.ruleX(ticksX[c],{insetBottom:H-5,stroke:"#000",strokeWidth:1.2}));
    m.push(Plot.ruleY(ticksY[r],{insetRight:W-5,stroke:"#000",strokeWidth:1.2}));
    m.push(Plot.ruleY(ticksY[r],{insetLeft:W-5,stroke:"#000",strokeWidth:1.2}));
  }
  if(r===7) m.push(Plot.axisX({ticks:ticksX[c],anchor:"bottom",tickSize:0,tickPadding:6,fontSize:24,tickFormat:fmtX[c],label:null,fill:"#000"}));
  if(c===0&&r>0) m.push(Plot.axisY({ticks:ticksY[r],anchor:"left",tickSize:0,tickPadding:7,fontSize:24,tickFormat:fmtY[r],label:null,fill:"#000"}));
  m.push(Plot.frame({stroke:"#000",strokeWidth:1.4}));
  return m;
}
function place(r,c,marks,yd){
  const ml=c===0?ML:0, mb=r===7?MB:0;
  const svg=Plot.plot({width:W+ml,height:H+mb,marginLeft:ml,marginRight:0,marginTop:0,marginBottom:mb,
    x:{domain:domains[c],axis:null},y:{domain:yd,axis:null},style:{background:"transparent",overflow:"visible",fontFamily:FONT},marks});
  const d=document.createElement("div");d.className="p";
  d.style.left=(X0+c*W-ml)+"px";d.style.top=(Y0+r*H)+"px";d.style.width=(W+ml)+"px";
  d.appendChild(svg);fig.appendChild(d);
}
const dash={stroke:"#808080",strokeWidth:.8,strokeDasharray:"3,1.6",strokeLinecap:"butt"};
for(let c=0;c<8;c++){
  const line=(arr,o)=>Plot.line([{x:domains[c][0],y:0},...arr[c].map((x,i)=>({x,y:levels[i]})),{x:domains[c][1],y:0}],{x:"x",y:"y",curve:"monotone-x",clip:true,...o});
  place(c,c,[
    Plot.ruleX([truth[c]],dash),
    line(sbi1d,{stroke:"#B22222",strokeWidth:4.6}),
    line(sample1d,{stroke:"#00008B",strokeWidth:4.6}),
    line(analytic1d,{stroke:"#6495ED",strokeWidth:4.6}),
    line(fisher1d,dotted),
    ...frameMarks(c,c,true).slice(c===0?1:0)
  ],[0,1.09]);
}
for(let r=1;r<8;r++)for(let c=0;c<r;c++){
  const g=k=>window[k+r+c];
  place(r,c,[
    closed(g("R"),{fill:"#DFA7A7",stroke:"#C96B6B",strokeWidth:1}),
    closed(g("N"),{fill:"#A5A0CC"}),
    closed(g("B"),{fill:"#BFCBEA",stroke:"#ABBFEF",strokeWidth:1}),
    closed(g("M"),{fill:"#AEBBE4"}),
    closed(g("D"),{fill:"#17178A"}),
    closed(g("L"),{fill:"#6D93E2"}),
    closed(g("K"),{fill:"#5881DC"}),
    closed(g("N"),{stroke:"#6E75C6",strokeWidth:.9}),
    Plot.ruleX([truth[c]],dash),
    Plot.ruleY([truth[r]],dash),
    closed(g("F"),dotted),
    closed(g("H"),dotted),
    ...frameMarks(r,c,false)
  ],domains[r]);
}
xLabels.forEach((t,i)=>{
  const a=document.createElement("div");a.className="lab";a.innerHTML=t;
  a.style.left=(X0+(i+.5)*W)+"px";a.style.top="1551px";fig.appendChild(a);
  if(i>0){
    const b=document.createElement("div");b.className="lab y";b.innerHTML=t;
    b.style.left=yLabelX[i]+"px";b.style.top=(Y0+(i+.5)*H)+"px";fig.appendChild(b);
  }
});
const legendColors=["#B22222","#00008B","#6495ED",null];
legendNames.forEach((t,i)=>{
  const d=document.createElement("div");d.className="leg";d.style.top=legendY[i]+"px";
  const s=legendColors[i]?`<span class="s" style="background:${legendColors[i]}"></span>`
   :`<svg class="s" viewBox="0 0 76 27"><line x1="0" x2="76" y1="13.5" y2="13.5" stroke="#000" stroke-width="3" stroke-dasharray="3,5"/></svg>`;
  d.innerHTML=s+`<span style="position:relative;top:1px">${t}</span>`;fig.appendChild(d);
});
</script></body></html>
